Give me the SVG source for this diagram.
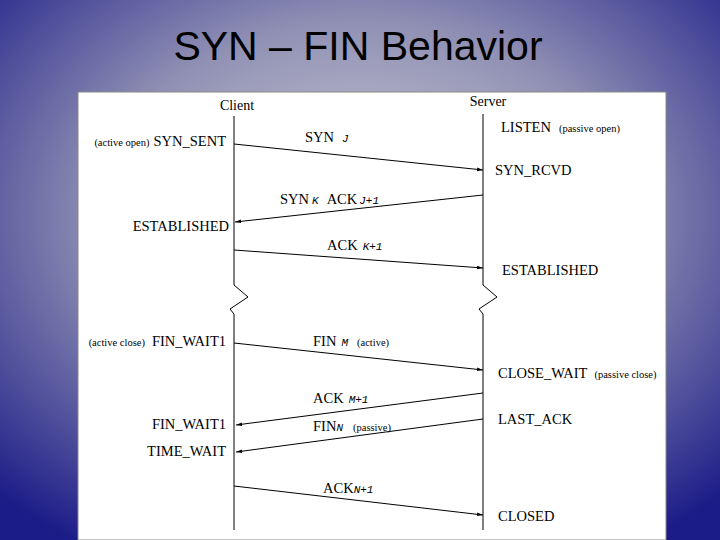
<svg xmlns="http://www.w3.org/2000/svg" width="720" height="540" viewBox="0 0 720 540">
<defs>
<radialGradient id="bg" cx="50%" cy="40%" r="72%">
<stop offset="0" stop-color="#cfcfd8"/><stop offset="0.5" stop-color="#9090b4"/><stop offset="1" stop-color="#1c1c88"/>
</radialGradient>
<marker id="ah" viewBox="0 0 10 10" refX="10" refY="5" markerWidth="6" markerHeight="6" orient="auto"><path d="M0,2 L10,5 L0,8z" fill="#000"/></marker>
<style>
.t{font-family:"Liberation Serif",serif;font-size:14.5px;fill:#000}
.s{font-family:"Liberation Serif",serif;font-size:10.5px;fill:#000}
.m{font-family:"Liberation Mono",monospace;font-size:11px;font-style:italic;fill:#000}
.l{stroke:#000;stroke-width:1;fill:none}
.a{stroke:#000;stroke-width:1;fill:none;marker-end:url(#ah)}
</style>
</defs>
<rect width="720" height="540" fill="url(#bg)"/>
<text x="358" y="60" text-anchor="middle" style="font-family:'Liberation Sans',sans-serif;font-size:41px;fill:#000">SYN – FIN Behavior</text>
<rect x="78" y="92" width="588" height="448" fill="#fff" stroke="#888"/>
<g id="client"><text class="t" x="237" y="110" text-anchor="middle" style="font-size:14px">Client</text>
<path class="l" d="M234,116 V285 L248,297 L230,309 L234,314 V530"/></g>
<g id="server"><text class="t" x="488" y="106" text-anchor="middle" style="font-size:14px">Server</text>
<path class="l" d="M483,114 V285 L497,297 L479,309 L483,314 V530"/></g>
<g id="labels">
<text class="t" x="226" y="146" text-anchor="end"><tspan class="s">(active open)</tspan><tspan dx="4">SYN_SENT</tspan></text>
<text class="t" x="501" y="132">LISTEN<tspan class="s" dx="8">(passive open)</tspan></text>
<text class="t" x="495" y="175">SYN_RCVD</text>
<text class="t" x="229" y="231" text-anchor="end">ESTABLISHED</text>
<text class="t" x="502" y="275">ESTABLISHED</text>
<text class="t" x="226" y="346" text-anchor="end"><tspan class="s">(active close)</tspan><tspan dx="7">FIN_WAIT1</tspan></text>
<text class="t" x="498" y="378">CLOSE_WAIT<tspan class="s" dx="7">(passive close)</tspan></text>
<text class="t" x="226" y="429" text-anchor="end">FIN_WAIT1</text>
<text class="t" x="498" y="424">LAST_ACK</text>
<text class="t" x="226" y="456" text-anchor="end">TIME_WAIT</text>
<text class="t" x="498" y="521">CLOSED</text>
</g>
<g id="connectors">
<path class="a" d="M234,144 L483,170"/>
<text class="t" x="305" y="142">SYN<tspan class="m" dx="8">J</tspan></text>
<path class="a" d="M483,195 L235,222"/>
<text class="t" x="280" y="204">SYN<tspan class="m" dx="3">K</tspan><tspan dx="8">ACK</tspan><tspan class="m" dx="2">J+1</tspan></text>
<path class="a" d="M234,250 L483,268"/>
<text class="t" x="327" y="250">ACK<tspan class="m" dx="5">K+1</tspan></text>
<path class="a" d="M234,343 L483,370"/>
<text class="t" x="313" y="346">FIN<tspan class="m" dx="5">M</tspan><tspan class="s" dx="9">(active)</tspan></text>
<path class="a" d="M483,393 L236,425"/>
<text class="t" x="313" y="403">ACK<tspan class="m" dx="5">M+1</tspan></text>
<path class="a" d="M483,419 L236,452"/>
<text class="t" x="313" y="431">FIN<tspan class="m">N</tspan><tspan class="s" dx="10">(passive)</tspan></text>
<path class="a" d="M234,486 L483,515"/>
<text class="t" x="323" y="493">ACK<tspan class="m">N+1</tspan></text>
</g>
</svg>
